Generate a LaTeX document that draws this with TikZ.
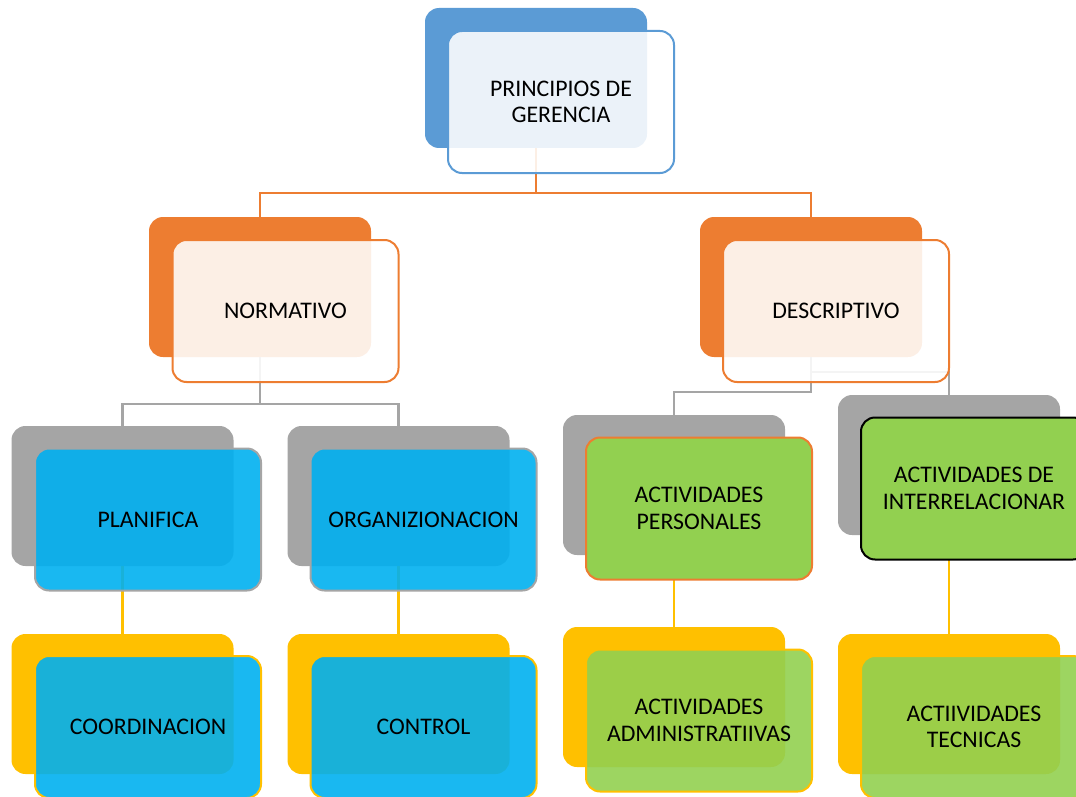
\documentclass[tikz,border=0pt]{standalone}
\usepackage{fontspec}
\setmainfont{Carlito}
\definecolor{cblue}{HTML}{5B9BD5}
\definecolor{corange}{HTML}{ED7D31}
\definecolor{cgray}{HTML}{A5A5A5}
\definecolor{cyellow}{HTML}{FFC000}
\definecolor{ccyan}{HTML}{00B0F0}
\definecolor{cgreen}{HTML}{92D050}
\begin{document}
\begin{tikzpicture}[x=1pt,y=-1pt,
  backbox/.style={rectangle,rounded corners=14pt,minimum width=222pt,minimum height=140pt,inner sep=0pt,outer sep=0pt,fill=#1},
  frontbox/.style={rectangle,rounded corners=14pt,minimum width=226pt,minimum height=142pt,inner sep=0pt,outer sep=0pt,line width=2pt,align=center,font=\fontsize{23.8}{26.5}\selectfont},
  conn/.style={line width=2.2pt,draw=#1}]
\useasboundingbox (0,0) rectangle (1076,797);
\clip (0,0) rectangle (1076,797);
% back boxes
\node[backbox=cblue] (topB) at (536,78) {};
\node[backbox=corange] (normB) at (260,287) {};
\node[backbox=corange] (descB) at (811,287) {};
\node[backbox=cgray] (planB) at (122.5,496) {};
\node[backbox=cgray] (orgB) at (398.5,496) {};
\node[backbox=cgray] (persB) at (674,485) {};
\node[backbox=cgray] (interB) at (949,465) {};
\node[backbox=cyellow] (coordB) at (122.5,704) {};
\node[backbox=cyellow] (ctrlB) at (398.5,704) {};
\node[backbox=cyellow] (adminB) at (674,697) {};
\node[backbox=cyellow] (tecB) at (949,704) {};
% connectors
\coordinate (j1) at (536,193);
\draw[conn=corange] (topB.south) -- (j1) -| (normB.north);
\draw[conn=corange] (j1) -| (descB.north);
\coordinate (j2) at (260,404);
\draw[conn=cgray] (normB.south) -- (j2) -| (planB.north);
\draw[conn=cgray] (j2) -| (orgB.north);
\coordinate (j3) at (811,372);
\coordinate (j4) at (811,392);
\draw[conn=cgray] (descB.south) -- (j3) -| (interB.north);
\draw[conn=cgray] (j3) -- (j4) -| (persB.north);
\draw[conn=cyellow] (planB.south) -- (coordB.north);
\draw[conn=cyellow] (orgB.south) -- (ctrlB.north);
\draw[conn=cyellow] (persB.south) -- (adminB.north);
\draw[conn=cyellow] (interB.south) -- (tecB.north);
% front boxes
\node[frontbox,draw=cblue,fill=white,fill opacity=0.88,text opacity=1] (top) at (561,102) {PRINCIPIOS DE\\GERENCIA};
\node[frontbox,draw=corange,fill=white,fill opacity=0.88,text opacity=1] (norm) at (285.5,311) {NORMATIVO};
\node[frontbox,draw=corange,fill=white,fill opacity=0.88,text opacity=1] (desc) at (836,311) {DESCRIPTIVO};
\node[frontbox,draw=cgray,fill=ccyan,fill opacity=0.9,text opacity=1] (plan) at (148,519.5) {PLANIFICA};
\node[frontbox,draw=cgray,fill=ccyan,fill opacity=0.9,text opacity=1] (org) at (423.5,519.5) {ORGANIZIONACION};
\node[frontbox,draw=corange,fill=cgreen] (pers) at (699,508.5) {ACTIVIDADES\\PERSONALES};
\node[frontbox,draw=black,fill=cgreen] (inter) at (974,488.5) {ACTIVIDADES DE\\INTERRELACIONAR};
\node[frontbox,draw=cyellow,fill=ccyan,fill opacity=0.9,text opacity=1] (coord) at (148,727) {COORDINACION};
\node[frontbox,draw=cyellow,fill=ccyan,fill opacity=0.9,text opacity=1] (ctrl) at (423.5,727) {CONTROL};
\node[frontbox,draw=cyellow,fill=cgreen,fill opacity=0.9,text opacity=1] (admin) at (699,720.5) {ACTIVIDADES\\ADMINISTRATIIVAS};
\node[frontbox,draw=cyellow,fill=cgreen,fill opacity=0.9,text opacity=1] (tec) at (974,727) {ACTIIVIDADES\\TECNICAS};
\end{tikzpicture}
\end{document}
